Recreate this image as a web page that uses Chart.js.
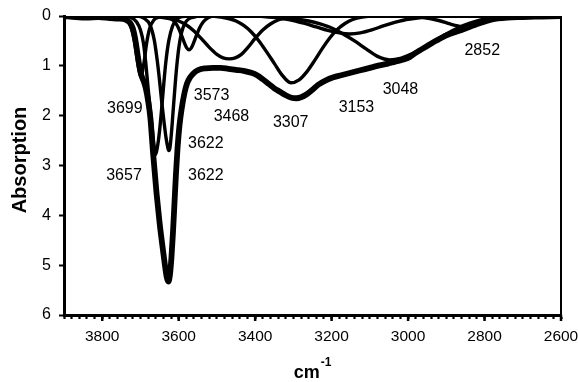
<!DOCTYPE html>
<html>
<head>
<meta charset="utf-8">
<script src="https://cdn.jsdelivr.net/npm/chart.js@4.4.1/dist/chart.umd.min.js"></script>
<style>
  html, body { margin: 0; padding: 0; background: #fff; }
  #wrap { width: 578px; height: 382px; }
</style>
</head>
<body>
<div id="wrap"><canvas id="c" width="578" height="382"></canvas></div>
<script>
// ---- Data (wavenumber, absorption) ----
const sumWn  = [3900,3870,3840,3810,3780,3760,3745,3735,3727,3720,3714,3708,3703,3698,3692,3686,3680,3674,3667,3658,3650,3642,3636,3631,3627,3623,3619,3615,3611,3607,3603,3598,3592,3585,3578,3570,3560,3548,3530,3510,3490,3470,3450,3430,3410,3395,3380,3365,3350,3335,3320,3305,3292,3280,3265,3250,3235,3215,3195,3175,3155,3135,3115,3095,3075,3055,3035,3015,2995,2980,2965,2950,2935,2920,2900,2880,2860,2840,2815,2790,2765,2740,2700,2650,2600];
const sumAbs = [0.00,0.02,0.03,0.02,0.04,0.05,0.06,0.09,0.14,0.25,0.45,0.75,1.00,1.18,1.30,1.45,1.70,2.05,2.75,3.55,4.15,4.65,5.00,5.25,5.33,5.20,4.85,4.35,3.75,3.15,2.65,2.20,1.85,1.55,1.35,1.23,1.14,1.08,1.05,1.04,1.04,1.06,1.08,1.10,1.14,1.19,1.27,1.36,1.45,1.52,1.59,1.64,1.65,1.63,1.57,1.48,1.38,1.29,1.23,1.19,1.15,1.11,1.07,1.03,0.99,0.96,0.92,0.88,0.82,0.74,0.67,0.60,0.53,0.47,0.39,0.33,0.28,0.22,0.15,0.09,0.05,0.03,0.02,0.01,0.00];

const c3699Wn  = [3900,3770,3750,3735,3725,3716,3708,3703,3699,3695,3690,3684,3676,3665,3650,3630,2600];
const c3699Abs = [0,0,0.02,0.08,0.22,0.50,0.90,1.12,1.22,1.12,0.90,0.55,0.25,0.08,0.02,0,0];

const c3657Wn  = [3900,3750,3725,3710,3700,3692,3686,3680,3674,3668,3664,3661,3658,3654,3650,3645,3640,3634,3626,3616,3604,3590,3575,2600];
const c3657Abs = [0,0,0.03,0.12,0.28,0.55,0.95,1.45,1.90,2.35,2.65,2.78,2.72,2.55,2.30,1.90,1.45,0.95,0.50,0.20,0.06,0.01,0,0];

const c3622Wn  = [3900,3710,3690,3675,3664,3656,3650,3644,3638,3633,3629,3626,3623,3619,3615,3610,3605,3599,3592,3584,3574,3560,3545,2600];
const c3622Abs = [0,0,0.05,0.18,0.48,0.90,1.30,1.75,2.15,2.45,2.62,2.70,2.65,2.35,1.95,1.45,1.00,0.60,0.32,0.15,0.06,0.02,0,0];

const c3573Wn  = [3900,3640,3625,3610,3600,3592,3585,3579,3573,3567,3561,3554,3546,3536,3522,3505,2600];
const c3573Abs = [0,0,0.03,0.12,0.25,0.40,0.54,0.64,0.68,0.64,0.54,0.40,0.25,0.12,0.03,0,0];

const c3468Wn  = [3900,3680,3650,3625,3600,3580,3560,3540,3520,3500,3484,3468,3452,3436,3420,3400,3380,3360,3340,3320,3300,3275,2600];
const c3468Abs = [0,0,0.02,0.05,0.10,0.18,0.30,0.46,0.63,0.77,0.84,0.86,0.84,0.77,0.64,0.45,0.28,0.16,0.08,0.04,0.01,0,0];

const c3307Wn  = [3900,3520,3490,3470,3450,3430,3410,3390,3370,3350,3330,3307,3285,3265,3245,3225,3205,3185,3165,3145,3120,3090,2600];
const c3307Abs = [0,0,0.02,0.05,0.10,0.19,0.32,0.50,0.72,0.95,1.18,1.34,1.28,1.12,0.90,0.66,0.44,0.27,0.15,0.07,0.02,0,0];

const c3153Wn  = [3900,3400,3360,3330,3300,3270,3240,3210,3180,3153,3125,3095,3065,3035,3005,2975,2945,2910,2600];
const c3153Abs = [0,0,0.02,0.05,0.09,0.15,0.22,0.29,0.34,0.36,0.34,0.28,0.20,0.13,0.07,0.04,0.02,0,0];

const c3048Wn  = [3900,3400,3350,3300,3260,3230,3200,3170,3140,3110,3080,3048,3020,2990,2960,2930,2900,2870,2840,2810,2780,2750,2710,2670,2600];
const c3048Abs = [0,0,0.02,0.05,0.10,0.16,0.24,0.36,0.50,0.66,0.81,0.88,0.85,0.76,0.64,0.50,0.36,0.24,0.15,0.08,0.04,0.02,0.01,0,0];

const c2852Wn  = [3900,3000,2960,2920,2890,2870,2852,2834,2815,2790,2760,2720,2680,2600];
const c2852Abs = [0,0,0.03,0.09,0.16,0.20,0.22,0.20,0.16,0.09,0.04,0.01,0,0];

// Peak annotation labels (text, wavenumber, absorption where the label sits)
const peakText = ['3699','3657','3622','3622','3573','3468','3307','3153','3048','2852'];
const peakWn   = [3741, 3743, 3529, 3529, 3514, 3462, 3307, 3135, 3020, 2806];
const peakAbs  = [1.85, 3.21, 2.57, 3.21, 1.59, 2.01, 2.13, 1.83, 1.47, 0.70];

// Axis ticks
const xMin = 2600, xMax = 3900, xMinorStep = 20, xMajorStep = 200;
const yMin = 0, yMax = 6, yStep = 1;
const yTitle = 'Absorption';
const xTitle = 'cm';
const xTitleSup = '-1';

// ---- Build chart ----
const FONT = '"Liberation Sans", Arial, Helvetica, sans-serif';
function pts(wn, ab) { return wn.map((w, i) => ({ x: w, y: ab[i] })); }
function comp(wn, ab) {
  return { data: pts(wn, ab), borderColor: '#000', borderWidth: 3.4, pointRadius: 0,
           cubicInterpolationMode: 'monotone', fill: false };
}

const datasets = [
  comp(c3699Wn, c3699Abs),
  comp(c3657Wn, c3657Abs),
  comp(c3622Wn, c3622Abs),
  comp(c3573Wn, c3573Abs),
  comp(c3468Wn, c3468Abs),
  comp(c3307Wn, c3307Abs),
  comp(c3153Wn, c3153Abs),
  comp(c3048Wn, c3048Abs),
  comp(c2852Wn, c2852Abs),
  { data: pts(sumWn, sumAbs), borderColor: '#000', borderWidth: 5.8, pointRadius: 0,
    cubicInterpolationMode: 'monotone', fill: false }
];

const overlay = {
  id: 'overlay',
  afterDraw(chart) {
    const { ctx, chartArea: a, scales: { x, y } } = chart;
    ctx.save();
    ctx.strokeStyle = '#000';
    // right frame line
    ctx.lineWidth = 2;
    ctx.beginPath(); ctx.moveTo(a.right, a.top); ctx.lineTo(a.right, a.bottom + 1); ctx.stroke();
    // longer major ticks on x axis
    ctx.lineWidth = 2.5;
    for (let v = xMin; v <= xMax; v += xMajorStep) {
      const px = x.getPixelForValue(v);
      ctx.beginPath(); ctx.moveTo(px, a.bottom); ctx.lineTo(px, a.bottom + 6); ctx.stroke();
    }
    // peak labels
    ctx.fillStyle = '#000';
    ctx.font = '16px ' + FONT;
    ctx.textAlign = 'center'; ctx.textBaseline = 'middle';
    peakText.forEach((t, i) => ctx.fillText(t, x.getPixelForValue(peakWn[i]), y.getPixelForValue(peakAbs[i])));
    // y title
    ctx.save();
    ctx.translate(20, 160);
    ctx.rotate(-Math.PI / 2);
    ctx.font = 'bold 20px ' + FONT;
    ctx.fillText(yTitle, 0, 0);
    ctx.restore();
    // x title with superscript
    ctx.font = 'bold 18px ' + FONT;
    const w1 = ctx.measureText(xTitle).width;
    ctx.font = 'bold 12px ' + FONT;
    const w2 = ctx.measureText(xTitleSup).width;
    const cx = 312;
    const sx = cx - (w1 + w2) / 2;
    ctx.textAlign = 'left'; ctx.textBaseline = 'alphabetic';
    ctx.font = 'bold 18px ' + FONT;
    ctx.fillText(xTitle, sx, 378);
    ctx.font = 'bold 12px ' + FONT;
    ctx.fillText(xTitleSup, sx + w1 + 1, 366);
    ctx.restore();
  }
};

new Chart(document.getElementById('c'), {
  type: 'line',
  data: { datasets },
  options: {
    responsive: false,
    animation: false,
    events: [],
    layout: { padding: { left: 0, right: 17, top: 16, bottom: 0 } },
    plugins: { legend: { display: false }, tooltip: { enabled: false } },
    scales: {
      x: {
        type: 'linear', reverse: true, min: xMin, max: xMax, position: 'bottom',
        border: { display: true, color: '#000', width: 3 },
        grid: { drawOnChartArea: false, drawTicks: true, tickLength: 4, tickWidth: 2.2, tickColor: '#000' },
        ticks: {
          stepSize: xMinorStep, autoSkip: false, maxRotation: 0, minRotation: 0,
          color: '#000', font: { family: FONT, size: 15.5 }, padding: 8,
          callback: v => (v % xMajorStep === 0 ? String(v) : '')
        },
        afterFit: s => { s.height = 67; s.paddingLeft = 0; s.paddingRight = 0; }
      },
      y: {
        type: 'linear', reverse: true, min: yMin, max: yMax, position: 'left',
        border: { display: true, color: '#000', width: 3 },
        grid: { drawOnChartArea: false, drawTicks: true, tickLength: 5, tickWidth: 2, tickColor: '#000' },
        ticks: { stepSize: yStep, color: '#000', font: { family: FONT, size: 16 }, padding: 8 },
        afterFit: s => { s.width = 64; s.paddingTop = 0; s.paddingBottom = 0; }
      }
    }
  },
  plugins: [overlay]
});
</script>
</body>
</html>
